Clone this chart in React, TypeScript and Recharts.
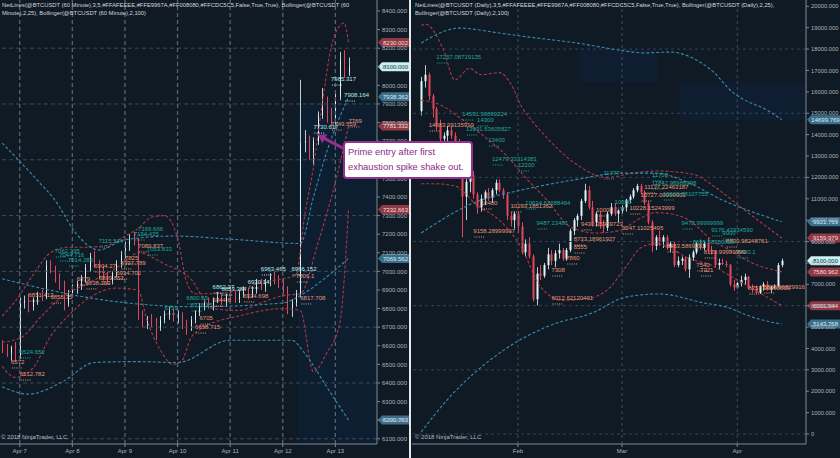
import React from "react";
import {
  ComposedChart,
  Bar,
  Line,
  XAxis,
  YAxis,
  ReferenceLine,
  ReferenceDot,
  ReferenceArea,
} from "recharts";

type Candle = [number, number, number, number, number]; // x, open, high, low, close
type Pt = [number, number];
type Tag = [number, number, string, string]; // x, price, text, tone
type Mark = [number, string]; // price, tone

const BG = "#0f1a25";
const UP = "#e4f6f6";
const DOWN = "#e5465a";
const RED_BAND = "#b13744";
const BLUE_BAND = "#3a8bb0";
const FONT = "'Liberation Sans', Arial, sans-serif";
const TONES: Record<string, string> = { t: "#22a79c", s: "#e9967a", w: "#afeeee" };

// ---------- 60 minute panel (x = hours from Apr 7 00:00) ----------
const hourDates = ["Apr 7", "Apr 8", "Apr 9", "Apr 10", "Apr 11", "Apr 12", "Apr 13"];
const hourDateX = [0, 24, 48, 72, 96, 120, 144];
const hourTicks = [6100, 6200, 6300, 6400, 6500, 6600, 6700, 6800, 6900, 7000, 7100, 7200, 7300, 7400, 7500, 7600, 7700, 7800, 7900, 8000, 8100, 8200, 8300, 8400];
const hourGrid = [6100, 6400, 6700, 7000, 7300, 7600, 7900, 8200];

const hourBars: Candle[] = [
  [-8, 6600, 6630, 6560, 6580], [-6, 6580, 6610, 6540, 6560], [-4, 6560, 6600, 6520, 6590],
  [-2, 6590, 6620, 6512, 6550], [0, 6550, 6860, 6530, 6830], [2, 6830, 6870, 6800, 6840],
  [4, 6840, 6880, 6780, 6810], [6, 6810, 6860, 6790, 6850], [8, 6850, 6890, 6820, 6870],
  [10, 6870, 6900, 6840, 6860], [12, 6860, 7060, 6850, 7030], [14, 7030, 7060, 6990, 7010],
  [16, 7010, 7030, 6940, 6960], [18, 6960, 6990, 6900, 6920], [20, 6920, 6950, 6790, 6830],
  [22, 6830, 6900, 6810, 6880], [24, 6880, 6930, 6860, 6910], [26, 6910, 6950, 6880, 6930],
  [28, 6930, 6980, 6900, 6960], [30, 6960, 7040, 6940, 7020], [32, 7020, 7100, 7000, 7080],
  [34, 7080, 7110, 7020, 7040], [36, 7040, 7060, 6960, 6990], [38, 6990, 7030, 6950, 6970],
  [40, 6970, 7000, 6930, 6950], [42, 6950, 7000, 6930, 6990], [44, 6990, 7060, 6970, 7040],
  [46, 7040, 7110, 7020, 7090], [48, 7090, 7160, 7070, 7140], [50, 7140, 7200, 7110, 7170],
  [52, 7170, 7212, 7140, 7160], [54, 7160, 7180, 6740, 6760], [56, 6760, 6790, 6700, 6720],
  [58, 6720, 6760, 6690, 6740], [60, 6740, 6770, 6700, 6720], [62, 6720, 6750, 6630, 6700],
  [64, 6700, 6760, 6680, 6740], [66, 6740, 6790, 6720, 6770], [68, 6770, 6810, 6740, 6790],
  [70, 6790, 6800, 6730, 6750], [72, 6750, 6790, 6720, 6770], [74, 6770, 6780, 6690, 6710],
  [76, 6710, 6740, 6660, 6700], [78, 6700, 6760, 6680, 6740], [80, 6740, 6790, 6720, 6780],
  [82, 6780, 6830, 6760, 6810], [84, 6810, 6850, 6790, 6830], [86, 6830, 6860, 6800, 6820],
  [88, 6820, 6860, 6790, 6850], [90, 6850, 6890, 6830, 6860], [92, 6860, 6880, 6820, 6840],
  [94, 6840, 6880, 6810, 6870], [96, 6870, 6900, 6840, 6860], [98, 6860, 6890, 6830, 6850],
  [100, 6850, 6900, 6830, 6880], [102, 6880, 6920, 6860, 6890], [104, 6890, 6910, 6850, 6870],
  [106, 6870, 6920, 6860, 6900], [108, 6900, 6960, 6880, 6940], [110, 6940, 6960, 6900, 6920],
  [112, 6920, 6960, 6890, 6950], [114, 6950, 6990, 6920, 6970], [116, 6970, 7000, 6930, 6950],
  [118, 6950, 6980, 6910, 6930], [120, 6930, 6960, 6880, 6900], [122, 6900, 6920, 6770, 6800],
  [124, 6800, 6850, 6755, 6830], [126, 6830, 6900, 6810, 6880], [128, 6880, 8030, 6860, 7690],
  [130, 7690, 7760, 7640, 7700], [132, 7700, 7730, 7600, 7640], [134, 7640, 7720, 7570, 7700],
  [136, 7700, 7860, 7680, 7840], [138, 7840, 7986, 7820, 7900], [140, 7900, 7940, 7800, 7830],
  [142, 7830, 7880, 7780, 7810], [144, 7810, 7960, 7790, 7940], [146, 7940, 8180, 7920, 8140],
  [148, 8140, 8190, 8040, 8070], [150, 8070, 8150, 8050, 8100],
];

const hourRedUpper: Pt[] = [[-8, 6760], [-2, 6840], [6, 6980], [14, 7100], [22, 7130], [30, 7130], [40, 7140], [48, 7190], [54, 7230], [60, 7290], [66, 7300], [72, 7180], [76, 6950], [80, 6880], [90, 6880], [100, 6900], [110, 6940], [120, 6960], [126, 6980], [130, 7300], [134, 7560], [138, 7900], [142, 8200], [146, 8320], [148, 8335], [150, 8230]];
const hourRedMid: Pt[] = [[-8, 6620], [0, 6640], [10, 6760], [20, 6870], [30, 6930], [40, 6990], [48, 7050], [54, 7100], [66, 7040], [78, 6960], [88, 6800], [100, 6790], [110, 6830], [120, 6870], [128, 6880], [136, 7150], [144, 7480], [150, 7781]];
const hourRedLower: Pt[] = [[-8, 6490], [-2, 6430], [6, 6480], [14, 6650], [22, 6760], [32, 6860], [44, 6910], [54, 6900], [58, 6740], [64, 6580], [70, 6500], [74, 6520], [78, 6640], [84, 6700], [100, 6760], [120, 6800], [128, 6790], [134, 6460], [140, 6560], [146, 6720], [150, 7333]];
const hourBlueUpper: Pt[] = [[-8, 7690], [8, 7490], [16, 7384], [26, 7200], [36, 7115], [48, 7170], [70, 7190], [100, 7170], [128, 7150], [134, 7400], [140, 7640], [150, 7938]];
const hourBlueMid: Pt[] = [[-8, 6960], [36, 6850], [80, 6810], [120, 6830], [128, 6870], [140, 6970], [150, 7070]];
const hourBlueLower: Pt[] = [[-8, 6380], [4, 6340], [20, 6410], [34, 6510], [52, 6515], [72, 6510], [96, 6630], [124, 6630], [130, 6560], [140, 6380], [150, 6201]];

const hourTags: Tag[] = [
  [0, 6567, "6524.652", "t"], [-4, 6513, "6572", "s"], [0, 6448, "6512.782", "s"],
  [4, 6873, "6851.413", "s"], [14, 6862, "6855.35", "s"], [16, 7110, "7062.395", "t"],
  [18, 7088, "7044.716", "t"], [22, 7061, "7014.286", "t"], [36, 7163, "7115.544", "t"],
  [54, 7228, "7169.666", "t"], [52, 7201, "7154.435", "t"], [54, 7137, "7089.837", "s"],
  [58, 7120, "7053.833", "t"], [48, 7072, "7025", "s"], [46, 7045, "6997.789", "s"],
  [44, 6991, "6934.702", "s"], [34, 7029, "6904.27", "s"], [36, 6965, "6899.853", "s"],
  [30, 6938, "6838.353", "s"], [26, 6959, "6879", "s"], [66, 6803, "6759", "t"],
  [76, 6857, "6800.65", "t"], [78, 6819, "6776.25", "t"], [82, 6749, "6705", "s"],
  [80, 6701, "6658.715", "s"], [88, 6916, "6862.37", "w"], [92, 6905, "6853.384", "w"],
  [88, 6846, "6844.6", "s"], [102, 6868, "6924.698", "s"], [104, 6943, "6930.14", "w"],
  [110, 7013, "6963.465", "w"], [124, 7013, "6966.152", "w"], [126, 6975, "7006.1", "s"],
  [128, 6857, "6817.708", "s"], [142, 8034, "7985.317", "w"], [148, 7948, "7908.164", "w"],
  [150, 7809, "7769", "s"], [142, 7792, "7749.559", "s"], [134, 7776, "7730.617", "w"],
];
const hourMarks: Mark[] = [[8230.002, "r"], [8100, "p"], [7938.362, "b"], [7781.332, "r"], [7332.663, "r"], [7069.562, "b"], [6200.763, "b"]];

// ---------- Daily panel (x = day of 2018, Jan 1 = 0) ----------
const dayDates = ["Feb", "Mar", "Apr"];
const dayDateX = [31, 59, 90];
const dayTicks = [0, 1000, 2000, 3000, 4000, 5000, 6000, 7000, 8000, 9000, 10000, 11000, 12000, 13000, 14000, 15000, 16000, 17000, 18000, 19000, 20000];
const dayGrid = [0, 3000, 6000, 9000, 12000, 15000, 18000];

const dayBars: Candle[] = [
  [5, 15100, 16700, 14900, 16500], [6, 16500, 17250, 16200, 16800], [7, 16800, 16900, 15600, 15800],
  [8, 15800, 15900, 14800, 15200], [9, 15200, 15300, 14200, 14400], [10, 14400, 14700, 13500, 13800],
  [11, 13800, 14100, 13300, 13950], [12, 13950, 14400, 13700, 14200], [13, 14200, 14400, 13800, 13950],
  [14, 13950, 14100, 13500, 13600], [15, 13600, 13800, 12200, 12400], [16, 12400, 12600, 9200, 11100],
  [17, 11100, 12000, 10000, 11800], [18, 11800, 12400, 11300, 12100], [19, 12100, 12300, 11000, 11200],
  [20, 11200, 11300, 10300, 10600], [21, 10600, 11200, 10400, 11000], [22, 11000, 11400, 10700, 11300],
  [23, 11300, 11500, 10900, 11050], [24, 11050, 11500, 10800, 11400], [25, 11400, 11900, 11200, 11750],
  [26, 11750, 11900, 11300, 11400], [27, 11400, 11500, 11000, 11200], [28, 11200, 11300, 10000, 10200],
  [29, 10200, 10400, 9700, 10000], [30, 10000, 10400, 9600, 10300], [31, 10300, 10400, 9400, 9700],
  [32, 9700, 9900, 8400, 8500], [33, 8500, 9100, 8300, 8900], [34, 8900, 9200, 8200, 8300],
  [35, 8300, 8400, 6200, 6300], [36, 6300, 7800, 6012, 7500], [37, 7500, 7900, 7200, 7400],
  [38, 7400, 8000, 7300, 7900], [39, 7900, 8700, 7700, 8400], [40, 8400, 8600, 7900, 8100],
  [41, 8100, 8600, 7800, 8450], [42, 8450, 8900, 8200, 8600], [43, 8600, 8700, 8100, 8200],
  [44, 8200, 8700, 8100, 8600], [45, 8600, 9600, 8500, 9500], [46, 9500, 10100, 9300, 10000],
  [47, 10000, 10300, 9700, 10200], [48, 10200, 11000, 10000, 10900], [49, 10900, 11700, 10800, 11400],
  [50, 11400, 11600, 10500, 10600], [51, 10600, 10900, 9700, 9900], [52, 9900, 10400, 9700, 10300],
  [53, 10300, 10400, 9600, 9700], [54, 9700, 10000, 9400, 9650], [55, 9650, 10400, 9500, 10300],
  [56, 10300, 10800, 10200, 10600], [57, 10600, 10800, 10200, 10300], [58, 10300, 10500, 9900, 10450],
  [59, 10450, 10700, 10300, 10600], [60, 10600, 11000, 10400, 10950], [61, 10950, 11200, 10800, 11100],
  [62, 11100, 11500, 11000, 11400], [63, 11400, 11700, 11300, 11600], [64, 11600, 11700, 11200, 11300],
  [65, 11300, 11400, 10700, 10800], [66, 10800, 10900, 9800, 9900], [67, 9900, 10000, 8500, 8800],
  [68, 8800, 9300, 8600, 9200], [69, 9200, 9500, 8800, 9000], [70, 9000, 9300, 8700, 9200],
  [71, 9200, 9300, 8600, 8700], [72, 8700, 9000, 8500, 8900], [73, 8900, 9000, 7800, 7900],
  [74, 7900, 8300, 7800, 8100], [75, 8100, 8300, 7900, 8200], [76, 8200, 8300, 7600, 7700],
  [77, 7700, 8400, 7300, 8250], [78, 8250, 8600, 8100, 8500], [79, 8500, 9000, 8400, 8900],
  [80, 8900, 9100, 8600, 8700], [81, 8700, 9000, 8600, 8900], [82, 8900, 9200, 8500, 8600],
  [83, 8600, 8800, 8400, 8500], [84, 8500, 8600, 7800, 7900], [85, 7900, 8200, 7700, 8000],
  [86, 8000, 8200, 7900, 7950], [87, 7950, 8100, 7800, 7900], [88, 7900, 7950, 6900, 7000],
  [89, 7000, 7200, 6700, 6850], [90, 6850, 7100, 6800, 7050], [91, 7050, 7400, 6900, 7200],
  [92, 7200, 7500, 7000, 7350], [93, 7350, 7400, 6750, 6800], [94, 6850, 7000, 6600, 6800],
  [95, 6800, 6950, 6550, 6600], [96, 6600, 6950, 6550, 6900], [97, 6900, 7100, 6700, 7000],
  [98, 7000, 7150, 6700, 6750], [99, 6750, 6900, 6600, 6850], [100, 6850, 7000, 6800, 6900],
  [101, 6900, 8000, 6850, 7900], [102, 7900, 8200, 7800, 8100],
];

const dayRedUpper: Pt[] = [[5, 19100], [6, 19170], [11, 17950], [14, 16550], [18, 17100], [21, 16800], [26, 16900], [29, 16400], [32, 15300], [35, 14600], [38, 14000], [46, 12700], [55, 12000], [62, 12200], [68, 12300], [78, 12150], [84, 11550], [91, 10600], [102, 9160]];
const dayRedMid: Pt[] = [[5, 15600], [10, 15400], [16, 14700], [22, 13900], [28, 13000], [33, 12000], [39, 10900], [45, 9700], [52, 9400], [58, 9500], [64, 10100], [68, 10350], [72, 10300], [77, 10000], [83, 9100], [88, 8600], [94, 8000], [102, 7581]];
const dayRedLower: Pt[] = [[5, 11700], [9, 11700], [14, 11600], [20, 10700], [26, 10000], [32, 8700], [37, 6900], [43, 6250], [50, 6350], [55, 6730], [60, 7800], [64, 8700], [68, 8900], [72, 8700], [77, 8200], [83, 7900], [88, 7400], [93, 6900], [98, 6400], [102, 6002]];
const dayBlueUpper: Pt[] = [[5, 18280], [10, 18750], [15, 18980], [26, 18750], [34, 18560], [47, 18280], [58, 17960], [65, 17820], [72, 17860], [79, 17490], [83, 17020], [89, 15950], [92, 15620], [98, 15150], [102, 14700]];
const dayBlueMid: Pt[] = [[5, 9400], [19, 10800], [32, 11410], [46, 11880], [59, 12200], [68, 12200], [77, 11740], [86, 10940], [95, 10330], [102, 9922]];
const dayBlueLower: Pt[] = [[5, 100], [12, 1600], [27, 3900], [40, 5100], [51, 5660], [60, 6400], [69, 6550], [81, 6130], [87, 5940], [94, 5470], [100, 5200], [102, 5144]];

const dayTags: Tag[] = [
  [9, 17629, "17257.08719135", "t"], [16, 14964, "14591.36869224", "t"], [20, 14683, "14300", "t"],
  [7, 14449, "14083.99135919", "s"], [17, 14262, "13991.63605827", "t"], [23, 13748, "13400", "t"],
  [24, 12860, "12479.33314381", "t"], [31, 12579, "12200", "t"], [21, 10802, "10400", "s"],
  [29, 10662, "10293.1851362", "s"], [33, 10802, "10634.62688464", "t"], [19, 9493, "9158.28999997", "s"],
  [36, 9867, "9487.13481", "t"], [46, 9119, "8733.18961927", "s"], [48, 9820, "9430.35959723", "s"],
  [46, 8745, "8555", "s"], [44, 8230, "7860", "s"], [40, 7669, "7308", "s"],
  [40, 6360, "6012.62120401", "s"], [54, 12205, "11777", "t"], [67, 12111, "11708", "t"],
  [67, 11737, "11842.98988998", "t"], [65, 11550, "11137.22463187", "s"], [64, 11176, "10727.00000001", "s"],
  [70, 11223, "10600.88107755", "t"], [57, 10849, "10560", "t"], [61, 10568, "10228.15243999", "s"],
  [52, 10475, "10000", "s"], [75, 9867, "9478.99999999", "t"], [59, 9633, "9247.11025495", "s"],
  [83, 9539, "9176.43934590", "t"], [86, 9399, "9000", "t"], [87, 9025, "8830.98248761", "s"],
  [71, 8791, "8463.5869291", "s"], [90, 8511, "8430.1", "t"], [81, 8511, "8129.99999999", "s"],
  [78, 8978, "8655.58350000", "t"], [79, 7903, "7540", "s"], [80, 7669, "7321", "s"],
  [93, 6827, "6757.00000000", "s"], [97, 6874, "6858.96829916", "s"],
];
const dayMarks: Mark[] = [[14699.769, "b"], [9921.769, "b"], [9159.979, "r"], [8100, "p"], [7580.962, "r"], [6001.944, "r"], [5143.768, "b"]];

// rows for a category axis: one per step, candles and band keypoints merged in
function buildRows(from: number, to: number, step: number, bars: Candle[], bands: Record<string, Pt[]>) {
  const rows: any[] = [];
  for (let x = from; x <= to; x += step) {
    const row: any = { x };
    const b = bars.find((k) => k[0] === x);
    if (b) {
      row.o = b[1];
      row.h = b[2];
      row.l = b[3];
      row.c = b[4];
      row.range = [b[3], b[2]];
    }
    for (const key of Object.keys(bands)) {
      const p = bands[key].find((q) => q[0] === x);
      if (p) row[key] = p[1];
    }
    rows.push(row);
  }
  return rows;
}

const hourRows = buildRows(-8, 162, 2, hourBars, {
  ru: hourRedUpper, rm: hourRedMid, rl: hourRedLower, bu: hourBlueUpper, bm: hourBlueMid, bl: hourBlueLower,
});
const dayRows = buildRows(3, 108, 1, dayBars, {
  ru: dayRedUpper, rm: dayRedMid, rl: dayRedLower, bu: dayBlueUpper, bm: dayBlueMid, bl: dayBlueLower,
});

function CandleShape(props: any) {
  const { x, y, width, height, payload } = props;
  if (!payload || payload.o == null || !isFinite(y) || !isFinite(height)) return null;
  const top = Math.min(y, y + height);
  const bottom = Math.max(y, y + height);
  const span = payload.h - payload.l || 1;
  const py = (v: number) => top + ((payload.h - v) / span) * (bottom - top);
  const up = payload.c >= payload.o;
  const cx = Math.round(x + width / 2) + 0.5;
  const y1 = py(Math.max(payload.o, payload.c));
  const y2 = py(Math.min(payload.o, payload.c));
  return (
    <g>
      <line x1={cx} x2={cx} y1={top} y2={bottom} stroke={up ? "#b9cdd2" : DOWN} strokeWidth={1} />
      <rect x={cx - width / 2} y={y1} width={width} height={Math.max(1, y2 - y1)} fill={up ? UP : DOWN} />
    </g>
  );
}

const tagShape = (text: string, tone: string) => (p: any) => {
  const col = TONES[tone];
  return (
    <g>
      <text x={p.cx} y={p.cy} dy={2} fontSize={6} fill={col} fontFamily={FONT}>
        {text}
      </text>
      <line x1={p.cx + 1} x2={p.cx + 12} y1={p.cy + 6} y2={p.cy + 6} stroke={col} strokeWidth={1} strokeDasharray="1 1.2" />
    </g>
  );
};

const MARK_STYLE: Record<string, [string, string]> = {
  r: ["#8f3a45", "#f3dede"],
  b: ["#3d6f8c", "#d8edf6"],
  p: ["#c6f3f3", "#10202a"],
};

const markLabel = (value: number, tone: string, boxW: number) => (props: any) => {
  const vb = props.viewBox || {};
  const ax = vb.x + vb.width;
  const y = vb.y;
  const [bg, fg] = MARK_STYLE[tone];
  const h = 9;
  return (
    <g>
      <path
        d={`M${ax + 1},${y} L${ax + 5},${y - h / 2} L${ax + boxW},${y - h / 2} L${ax + boxW},${y + h / 2} L${ax + 5},${y + h / 2} Z`}
        fill={bg}
      />
      <text x={ax + 5 + (boxW - 5) / 2} y={y + 2.2} textAnchor="middle" fontSize={6} fill={fg} fontFamily={FONT}>
        {value.toFixed(3)}
      </text>
    </g>
  );
};

const ArrowShape = (p: any) => {
  const tx = p.cx;
  const ty = p.cy;
  return (
    <g>
      <line x1={tx + 6} y1={ty + 3.5} x2={tx + 28} y2={ty + 15} stroke="#962f91" strokeWidth={3} />
      <polygon points={`${tx},${ty} ${tx + 9.5},${ty - 0.5} ${tx + 4.5},${ty + 8.5}`} fill="#962f91" />
    </g>
  );
};

function bandLines() {
  const defs: [string, string][] = [
    ["ru", RED_BAND], ["rm", RED_BAND], ["rl", RED_BAND],
    ["bu", BLUE_BAND], ["bm", BLUE_BAND], ["bl", BLUE_BAND],
  ];
  return defs.map(([k, col]) => (
    <Line
      key={k}
      dataKey={k}
      type="monotone"
      stroke={col}
      strokeWidth={1.1}
      strokeDasharray="3 2"
      dot={false}
      activeDot={false}
      connectNulls
      isAnimationActive={false}
    />
  ));
}

const axisTick = { fontSize: 6, fill: "#aab4bd", fontFamily: FONT };
const headStyle: React.CSSProperties = {
  position: "absolute",
  top: 1,
  fontSize: 5.8,
  lineHeight: "8px",
  color: "#cfd6dc",
  whiteSpace: "nowrap",
};

export default function App() {
  return (
    <div style={{ position: "absolute", left: 0, top: 0, width: 840, height: 458, background: BG, overflow: "hidden", fontFamily: FONT }}>
      <div style={{ position: "absolute", left: 0, top: 0 }}>
        <ComposedChart width={410} height={458} data={hourRows} margin={{ top: 0, right: 0, bottom: 0, left: 0 }} barCategoryGap="40%">
          <XAxis
            dataKey="x"
            ticks={hourDateX}
            interval={0}
            tickFormatter={(v: number) => hourDates[hourDateX.indexOf(v)] ?? ""}
            height={14}
            tick={axisTick}
            tickSize={3}
            stroke="#7d8893"
          />
          <YAxis
            orientation="right"
            width={33}
            domain={[6072, 8459]}
            allowDataOverflow
            ticks={hourTicks}
            interval={0}
            tickFormatter={(v: number) => v.toFixed(3)}
            tick={axisTick}
            tickSize={3}
            tickMargin={2}
            stroke="#7d8893"
          />
          <ReferenceArea x1={128} x2={162} y1={6072} y2={7905} fill="#0d1e31" fillOpacity={1} />
          {hourGrid.map((g) => (
            <ReferenceLine key={"hg" + g} y={g} stroke="#3c4957" strokeDasharray="4 3" />
          ))}
          {hourDateX.map((g) => (
            <ReferenceLine key={"vg" + g} x={g} stroke="#56636f" strokeWidth={1.3} strokeDasharray="4 3" />
          ))}
          {bandLines()}
          <Bar dataKey="range" shape={CandleShape} isAnimationActive={false} />
          {hourTags.map((t, i) => (
            <ReferenceDot key={"ht" + i} x={t[0]} y={t[1]} r={0} shape={tagShape(t[2], t[3])} />
          ))}
          <ReferenceDot x={136} y={7735} r={0} shape={ArrowShape} />
          {hourMarks.map((m) => (
            <ReferenceLine key={"hm" + m[0]} y={m[0]} stroke="none" label={markLabel(m[0], m[1], 32)} />
          ))}
        </ComposedChart>
      </div>

      <div style={{ position: "absolute", left: 409, top: 0, width: 2, height: 458, background: "#e3e7ea" }} />

      <div style={{ position: "absolute", left: 412, top: 0 }}>
        <ComposedChart width={428} height={458} data={dayRows} margin={{ top: 0, right: 0, bottom: 0, left: 0 }} barCategoryGap="25%">
          <XAxis
            dataKey="x"
            ticks={dayDateX}
            interval={0}
            tickFormatter={(v: number) => dayDates[dayDateX.indexOf(v)] ?? ""}
            height={14}
            tick={axisTick}
            tickSize={3}
            stroke="#7d8893"
          />
          <YAxis
            orientation="right"
            width={34}
            domain={[-468, 20295]}
            allowDataOverflow
            ticks={dayTicks}
            interval={0}
            tickFormatter={(v: number) => (v === 0 ? "0" : v.toFixed(3))}
            tick={{ ...axisTick, fontSize: 5.8 }}
            tickSize={3}
            tickMargin={2}
            stroke="#7d8893"
          />
          <ReferenceArea x1={48} x2={68} y1={16450} y2={17960} fill="#0e1d2f" fillOpacity={1} />
          <ReferenceArea x1={75} x2={108} y1={14680} y2={16450} fill="#0e1d2f" fillOpacity={1} />
          {dayGrid.map((g) => (
            <ReferenceLine key={"dg" + g} y={g} stroke="#364350" strokeDasharray="3 3" />
          ))}
          {dayDateX.map((g) => (
            <ReferenceLine key={"dv" + g} x={g} stroke="#3e4a56" strokeDasharray="3 3" />
          ))}
          {bandLines()}
          <Bar dataKey="range" shape={CandleShape} isAnimationActive={false} />
          {dayTags.map((t, i) => (
            <ReferenceDot key={"dt" + i} x={t[0]} y={t[1]} r={0} shape={tagShape(t[2], t[3])} />
          ))}
          {dayMarks.map((m) => (
            <ReferenceLine key={"dm" + m[0]} y={m[0]} stroke="none" label={markLabel(m[0], m[1], 34)} />
          ))}
        </ComposedChart>
      </div>

      <div style={{ ...headStyle, left: 2 }}>
        NetLines(@BTCUSDT (60 Minute),3,5,#FFAFEEEE,#FFE9967A,#FF008080,#FFCDC5C5,False,True,True), Bollinger(@BTCUSDT (60
        <br />
        Minute),2,25), Bollinger(@BTCUSDT (60 Minute),2,100)
      </div>
      <div style={{ ...headStyle, left: 415 }}>
        NetLines(@BTCUSDT (Daily),3,5,#FFAFEEEE,#FFE9967A,#FF008080,#FFCDC5C5,False,True,True), Bollinger(@BTCUSDT (Daily),2,25),
        <br />
        Bollinger(@BTCUSDT (Daily),2,100)
      </div>
      <div style={{ position: "absolute", left: 1, top: 434, fontSize: 6, color: "#b3bbc3" }}>© 2018 NinjaTrader, LLC</div>
      <div style={{ position: "absolute", left: 415, top: 434, fontSize: 6, color: "#b3bbc3" }}>© 2018 NinjaTrader, LLC</div>

      <div
        style={{
          position: "absolute",
          left: 343,
          top: 141,
          width: 123,
          height: 33,
          padding: "1px 0 0 3px",
          background: "#ffffff",
          border: "2px solid #962f91",
          borderRadius: 4,
          color: "#8b2a88",
          fontSize: 9.4,
          lineHeight: "15px",
          whiteSpace: "nowrap",
        }}
      >
        Prime entry after first
        <br />
        exhaustion spike shake out.
      </div>
    </div>
  );
}
